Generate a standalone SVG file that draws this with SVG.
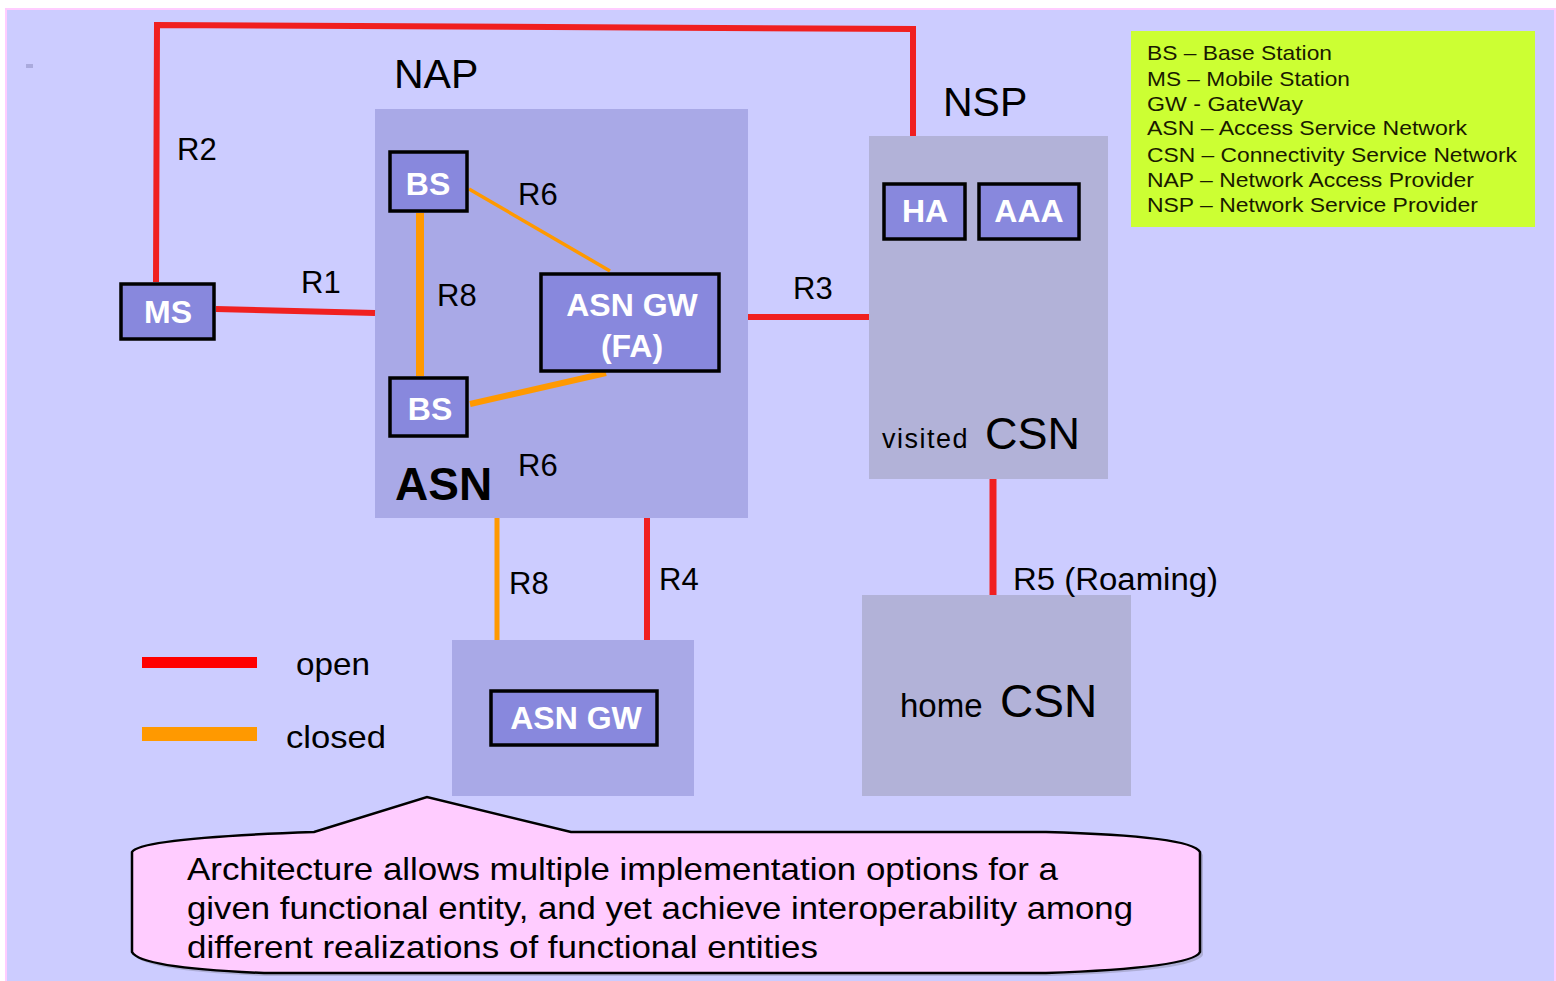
<svg xmlns="http://www.w3.org/2000/svg" width="1556" height="981" viewBox="0 0 1556 981">
<style>
text{font-family:"Liberation Sans",Arial,sans-serif;fill:#000}
.box{fill:#8888DD;stroke:#000;stroke-width:3.5}
.bl{fill:#fff;font-weight:bold;font-size:32px;text-anchor:middle}
.rl{font-size:31px}
.open{stroke:#F02020;fill:none;stroke-linecap:butt}
.closed{stroke:#FF9900;fill:none}
.lg{font-size:21px;fill:#1a1a00}
.big{font-size:41px}
</style>
<rect x="0" y="0" width="1556" height="981" fill="#fff"/>
<rect x="6" y="9" width="1549" height="980" fill="#CCCCFF" stroke="#FFCCFF" stroke-width="2"/>
<rect x="26" y="64" width="7" height="4" fill="#AAAADD"/>

<g id="asn-region">
<rect x="375" y="109" width="373" height="409" fill="#A9A9E7"/>
<text x="395" y="500" font-size="46" font-weight="bold">ASN</text>
</g>
<g id="nsp-region">
<rect x="869" y="136" width="239" height="343" fill="#B2B2D8"/>
<text x="882" y="448" font-size="27" letter-spacing="1.5">visited</text>
<text x="985" y="449" font-size="45">CSN</text>
</g>
<g id="home-csn">
<rect x="862" y="595" width="269" height="201" fill="#B2B2D8"/>
<text x="900" y="717" font-size="33">home</text>
<text x="1000" y="717" font-size="46">CSN</text>
</g>
<g id="asn-gw-region">
<rect x="452" y="640" width="242" height="156" fill="#A9A9E7"/>
</g>

<g id="connectors">
<polyline class="open" stroke-width="6" points="156,282 157,25 913,29 913,136"/>
<line class="open" stroke-width="6" x1="216" y1="309" x2="375" y2="313"/>
<line class="open" stroke-width="6" x1="748" y1="317" x2="869" y2="317"/>
<line class="open" stroke-width="6" x1="647" y1="518" x2="647" y2="640"/>
<line class="open" stroke-width="7" x1="993" y1="479" x2="993" y2="595"/>
<line class="closed" stroke-width="5" x1="497" y1="518" x2="497" y2="640"/>
<line class="closed" stroke-width="8" x1="420" y1="213" x2="420" y2="376"/>
<line class="closed" stroke-width="3.5" x1="469" y1="189" x2="610" y2="271"/>
<line class="closed" stroke-width="6" x1="470" y1="404" x2="606" y2="373"/>
</g>

<g id="labels">
<text x="394" y="88" class="big">NAP</text>
<text x="943" y="116" class="big">NSP</text>
<text x="177" y="160" class="rl">R2</text>
<text x="301" y="293" class="rl">R1</text>
<text x="437" y="306" class="rl">R8</text>
<text x="518" y="205" class="rl">R6</text>
<text x="518" y="476" class="rl">R6</text>
<text x="793" y="299" class="rl">R3</text>
<text x="509" y="594" class="rl">R8</text>
<text x="659" y="590" class="rl">R4</text>
<text x="1013" y="590" class="rl" textLength="205" lengthAdjust="spacingAndGlyphs">R5 (Roaming)</text>
</g>

<g id="ms"><rect class="box" x="121" y="284" width="93" height="55"/><text class="bl" x="168" y="323">MS</text></g>
<g id="bs1"><rect class="box" x="390" y="152" width="77" height="59"/><text class="bl" x="428" y="195">BS</text></g>
<g id="bs2"><rect class="box" x="390" y="378" width="77" height="58"/><text class="bl" x="430" y="420">BS</text></g>
<g id="asngw-fa"><rect class="box" x="541" y="274" width="178" height="97"/><text class="bl" x="632" y="316">ASN GW</text><text class="bl" x="632" y="357">(FA)</text></g>
<g id="ha"><rect class="box" x="884" y="184" width="81" height="55"/><text class="bl" x="925" y="222">HA</text></g>
<g id="aaa"><rect class="box" x="979" y="184" width="100" height="55"/><text class="bl" x="1029" y="222">AAA</text></g>
<g id="asngw"><rect class="box" x="491" y="691" width="166" height="54"/><text class="bl" x="576" y="729">ASN GW</text></g>

<g id="line-legend">
<rect x="142" y="657" width="115" height="11" fill="#FF0000"/>
<rect x="142" y="727" width="115" height="14" fill="#FF9900"/>
<text x="296" y="675" font-size="32" textLength="74" lengthAdjust="spacingAndGlyphs">open</text>
<text x="286" y="748" font-size="32" textLength="100" lengthAdjust="spacingAndGlyphs">closed</text>
</g>

<g id="abbrev-legend">
<rect x="1131" y="31" width="404" height="196" fill="#CCFF33"/>
<text class="lg" x="1147" y="60" textLength="185" lengthAdjust="spacingAndGlyphs">BS – Base Station</text>
<text class="lg" x="1147" y="86" textLength="203" lengthAdjust="spacingAndGlyphs">MS – Mobile Station</text>
<text class="lg" x="1147" y="111" textLength="156" lengthAdjust="spacingAndGlyphs">GW - GateWay</text>
<text class="lg" x="1147" y="135" textLength="320" lengthAdjust="spacingAndGlyphs">ASN – Access Service Network</text>
<text class="lg" x="1147" y="162" textLength="370" lengthAdjust="spacingAndGlyphs">CSN – Connectivity Service Network</text>
<text class="lg" x="1147" y="187" textLength="327" lengthAdjust="spacingAndGlyphs">NAP – Network Access Provider</text>
<text class="lg" x="1147" y="212" textLength="331" lengthAdjust="spacingAndGlyphs">NSP – Network Service Provider</text>
</g>

<g id="callout">
<path d="M 135,855 Q 143,841 317,835 L 430,800 L 574,835 L 1049,835 Q 1195,839 1203,855 L 1203,955 Q 1195,971 1049,976 L 267,976 Q 143,971 135,955 Z" fill="#9999BB" opacity="0.6"/>
<path d="M 132,852 Q 140,838 314,832 L 427,797 L 571,832 L 1046,832 Q 1192,836 1200,852 L 1200,952 Q 1192,968 1046,973 L 264,973 Q 140,968 132,952 Z" fill="#FFCCFF" stroke="#000" stroke-width="2.5"/>
<text x="187" y="880" font-size="32" textLength="871" lengthAdjust="spacingAndGlyphs">Architecture allows multiple implementation options for a</text>
<text x="187" y="919" font-size="32" textLength="946" lengthAdjust="spacingAndGlyphs">given functional entity, and yet achieve interoperability among</text>
<text x="187" y="958" font-size="32" textLength="631" lengthAdjust="spacingAndGlyphs">different realizations of functional entities</text>
</g>
</svg>
